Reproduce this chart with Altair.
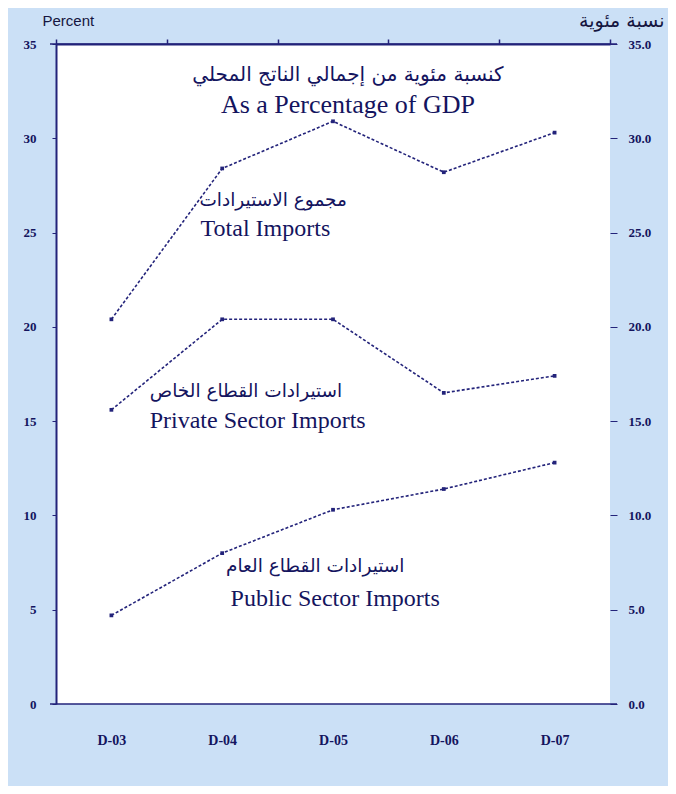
import altair as alt
import pandas as pd

# ---- data ----
years = ["D-03", "D-04", "D-05", "D-06", "D-07"]
total_imports = [20.4, 28.4, 30.9, 28.2, 30.3]
private_imports = [15.6, 20.4, 20.4, 16.5, 17.4]
public_imports = [4.7, 8.0, 10.3, 11.4, 12.8]
y_ticks = [0, 5, 10, 15, 20, 25, 30, 35]

# annotation texts (x in category-index units, y in percent)
ann_text = [
    "كنسبة مئوية من إجمالي الناتج المحلي",
    "As a Percentage of GDP",
    "مجموع الاستيرادات",
    "Total Imports",
    "استيرادات القطاع الخاص",
    "Private Sector Imports",
    "استيرادات القطاع العام",
    "Public Sector Imports",
]
ann_x = [2.135, 2.135, 1.46, 1.39, 1.215, 1.32, 1.84, 2.02]
ann_y = [33.35, 31.75, 26.75, 25.2, 16.6, 15.0, 7.3, 5.55]
ann_size = [20, 26, 18.5, 24, 18.5, 24, 18.5, 24]
ann_arabic = [True, False, True, False, True, False, True, False]

NAVY = "#23237a"
TEXT = "#14145e"

rows = []
for name, vals in [("Total", total_imports), ("Private", private_imports), ("Public", public_imports)]:
    for i, v in enumerate(vals):
        rows.append({"i": i, "series": name, "value": v})
df = pd.DataFrame(rows)

ann = pd.DataFrame({"x": ann_x, "y": ann_y, "text": ann_text,
                    "size": ann_size, "ar": ann_arabic})

xscale = alt.Scale(domain=[-0.5, len(years) - 0.5], nice=False, zero=False)
yscale = alt.Scale(domain=[0, 35], nice=False)

label_expr = "[" + ",".join("'%s'" % y for y in years) + "][round(datum.value)]"

lines = alt.Chart(df).mark_line(
    color=NAVY, strokeWidth=1.6, strokeDash=[3, 2],
    point=alt.OverlayMarkDef(color=NAVY, size=14, filled=True, shape="square"),
).encode(
    x=alt.X("i:Q", scale=xscale, title=None,
            axis=alt.Axis(values=list(range(len(years))), labelExpr=label_expr,
                          ticks=False, domain=False, grid=False,
                          labelFont="Liberation Serif", labelFontWeight="bold",
                          labelFontSize=14, labelColor=TEXT, labelPadding=29)),
    y=alt.Y("value:Q", scale=yscale, title="Percent",
            axis=alt.Axis(values=y_ticks, format="d", grid=False,
                          domainColor=NAVY, domainWidth=2, tickColor=NAVY,
                          tickSize=4, labelFont="Liberation Serif",
                          labelFontWeight="bold", labelFontSize=13,
                          labelColor=TEXT, labelPadding=16,
                          titleAngle=0, titleAlign="left", titleBaseline="middle",
                          titleX=-14, titleY=-24, titleFont="Liberation Sans",
                          titleFontSize=15, titleFontWeight="normal",
                          titleColor="#151540")),
    detail="series:N",
)

# boundary ticks on the x axis and right-hand axis
right_axis = alt.Chart(df).mark_point(opacity=0).encode(
    x=alt.X("i:Q", scale=xscale, title=None,
            axis=alt.Axis(values=[k - 0.5 for k in range(len(years) + 1)],
                          labels=False, grid=False, domainColor=NAVY,
                          domainWidth=2, tickColor=NAVY, tickSize=5, tickWidth=1.5)),
    y=alt.Y("value:Q", scale=yscale, title="نسبة مئوية",
            axis=alt.Axis(orient="right", values=y_ticks, format=".1f", grid=False,
                          domain=False, tickColor=NAVY, tickSize=7,
                          labelFont="Liberation Serif", labelFontWeight="bold",
                          labelFontSize=13, labelColor=TEXT, labelPadding=11,
                          titleAngle=0, titleAlign="right", titleBaseline="middle",
                          titleX=54, titleY=-24, titleFont="DejaVu Sans",
                          titleFontSize=19, titleFontWeight="normal",
                          titleColor="#151540")),
)

edge_rules = alt.Chart(pd.DataFrame({"y": [35, 0]})).mark_rule(
    color=NAVY, strokeWidth=1.6
).encode(y=alt.Y("y:Q", scale=yscale, axis=None),
         x=alt.value(-6), x2=alt.value(561))

ar_text = alt.Chart(ann[ann["ar"]]).mark_text(
    font="DejaVu Sans", color=TEXT, align="center", baseline="middle"
).encode(
    x=alt.X("x:Q", scale=xscale, axis=None),
    y=alt.Y("y:Q", scale=yscale, axis=None),
    size=alt.Size("size:Q", scale=None, legend=None),
    text="text:N",
)
en_text = alt.Chart(ann[~ann["ar"]]).mark_text(
    font="Liberation Serif", color=TEXT, align="center", baseline="middle"
).encode(
    x=alt.X("x:Q", scale=xscale, axis=None),
    y=alt.Y("y:Q", scale=yscale, axis=None),
    size=alt.Size("size:Q", scale=None, legend=None),
    text="text:N",
)

chart = alt.layer(lines, right_axis, edge_rules, ar_text, en_text).resolve_axis(
    x="independent", y="independent"
).properties(
    width=554, height=660,
    padding={"left": 48, "top": 36, "right": 58, "bottom": 82},
    autosize=alt.AutoSizeParams(type="none"),
    background="#cbe0f6",
).configure_view(fill="white", stroke=None)

chart.save("out.html", embed_options={"renderer": "svg", "actions": False})
